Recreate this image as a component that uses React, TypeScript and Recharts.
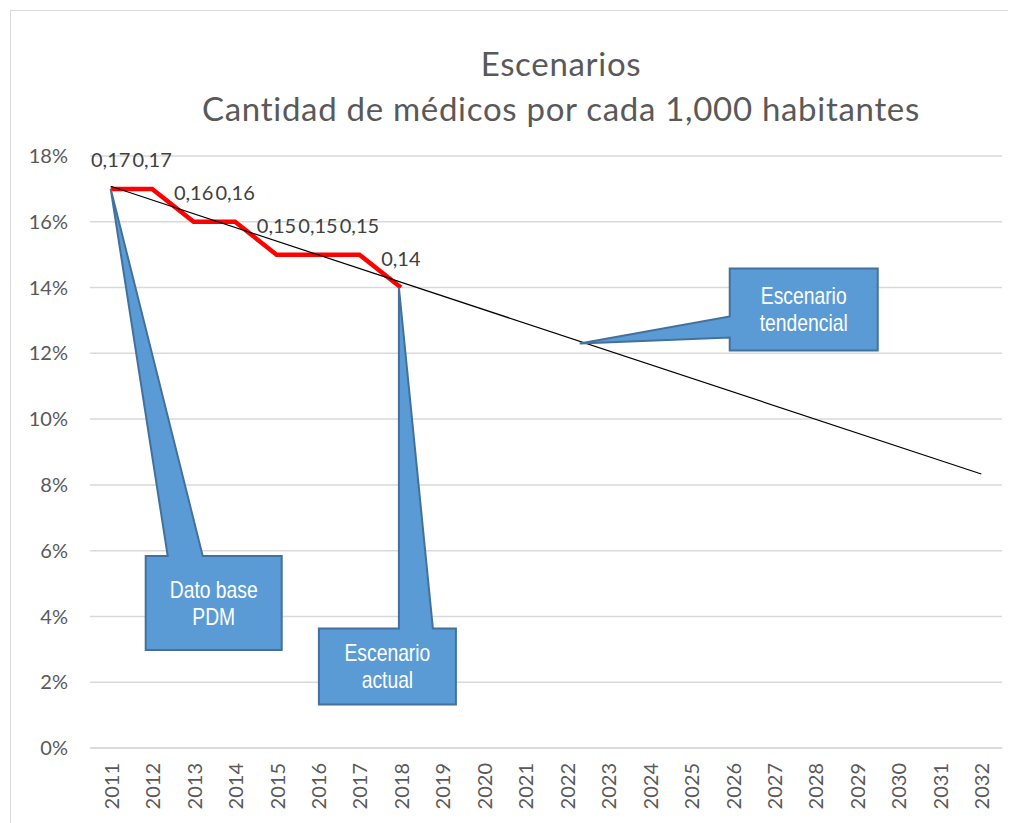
import React from "react";
import {
  LineChart,
  Line,
  XAxis,
  YAxis,
  CartesianGrid,
  LabelList,
  ReferenceDot,
} from "recharts";

const years = [
  "2011", "2012", "2013", "2014", "2015", "2016", "2017", "2018", "2019", "2020", "2021",
  "2022", "2023", "2024", "2025", "2026", "2027", "2028", "2029", "2030", "2031", "2032",
];

// actual scenario (red), only observed years
const actual = [
  0.17, 0.17, 0.16, 0.16, 0.15, 0.15, 0.15, 0.14,
  null, null, null, null, null, null, null, null, null, null, null, null, null, null,
];

// linear trend line: endpoints only, drawn straight between them
const trend = [
  0.1708, null, null, null, null, null, null, null, null, null, null,
  null, null, null, null, null, null, null, null, null, null, 0.0833,
];

const yTicks = [0, 0.02, 0.04, 0.06, 0.08, 0.1, 0.12, 0.14, 0.16, 0.18];

const data = years.map((year, i) => ({ year, actual: actual[i], trend: trend[i] }));

type CalloutCfg = {
  x: string;
  y: number;
  tipDx: number;
  box: [number, number, number, number]; // x0, x1, y0, y1 relative to anchor
  side: "top" | "left";
  base: [number, number];
  lines: string[];
};

const callouts: CalloutCfg[] = [
  { x: "2011", y: 0.17, tipDx: 0, box: [35, 171, 367, 461], side: "top", base: [57, 92], lines: ["Dato base", "PDM"] },
  { x: "2018", y: 0.14, tipDx: -2, box: [-82, 55, 341, 417], side: "top", base: [-2, 32], lines: ["Escenario", "actual"] },
  { x: "2022", y: 0.123, tipDx: 13, box: [163, 311, -75, 7], side: "left", base: [-27, -6], lines: ["Escenario", "tendencial"] },
];

const FONT = "Lato, 'Open Sans', sans-serif";
const GREY = "#595959";

function Callout(props: any) {
  const { cx, cy, cfg } = props as { cx: number; cy: number; cfg: CalloutCfg };
  if (cx == null || cy == null) return null;
  const [x0, x1, y0, y1] = cfg.box;
  const tx = cx + cfg.tipDx;
  const ty = cy;
  let d: string;
  if (cfg.side === "top") {
    d = `M${cx + x0},${cy + y0} L${cx + cfg.base[0]},${cy + y0} L${tx},${ty} L${cx + cfg.base[1]},${cy + y0} L${cx + x1},${cy + y0} L${cx + x1},${cy + y1} L${cx + x0},${cy + y1} Z`;
  } else {
    d = `M${cx + x0},${cy + y0} L${cx + x1},${cy + y0} L${cx + x1},${cy + y1} L${cx + x0},${cy + y1} L${cx + x0},${cy + cfg.base[1]} L${tx},${ty} L${cx + x0},${cy + cfg.base[0]} Z`;
  }
  const mx = cx + (x0 + x1) / 2;
  const my = cy + (y0 + y1) / 2;
  const lh = 27;
  return (
    <g>
      <path d={d} fill="#5B9BD5" stroke="#41719C" strokeWidth={2} strokeLinejoin="miter" />
      {cfg.lines.map((t, i) => (
        <text
          key={t}
          x={0}
          y={0}
          transform={`translate(${mx} ${my + (i - (cfg.lines.length - 1) / 2) * lh}) scale(0.84 1)`}
          textAnchor="middle"
          dominantBaseline="central"
          fill="#ffffff"
          fontSize={23}
          fontFamily="'Liberation Sans', Arial, sans-serif"
        >
          {t}
        </text>
      ))}
    </g>
  );
}

function YearTick(props: any) {
  const { x, y, payload } = props;
  return (
    <text
      x={x}
      y={y}
      transform={`rotate(-90 ${x} ${y})`}
      textAnchor="end"
      dominantBaseline="central"
      fill={GREY}
      fontSize={20}
      fontFamily={FONT}
    >
      {payload.value}
    </text>
  );
}

const fmtLabel = (v: any) => (v == null ? "" : Number(v).toFixed(2).replace(".", ","));

export default function App() {
  return (
    <div style={{ padding: 2 }}>
      <div
        style={{
          position: "relative",
          width: 999,
          height: 830,
          border: "1px solid #d9d9d9",
          background: "#fff",
          overflow: "hidden",
        }}
      >
        <div
          style={{
            position: "absolute",
            left: 0,
            width: 1100,
            top: 30,
            lineHeight: "45px",
            textAlign: "center",
            color: GREY,
            fontFamily: FONT,
            fontSize: 33,
            letterSpacing: 0.7,
          }}
        >
          <div>Escenarios</div>
          <div>Cantidad de médicos por cada 1,000 habitantes</div>
        </div>
        <LineChart
          width={999}
          height={812}
          data={data}
          margin={{ top: 145, right: 8, bottom: 0, left: 0 }}
        >
          <CartesianGrid vertical={false} stroke="#d9d9d9" strokeWidth={1.5} />
          <XAxis
            dataKey="year"
            interval={0}
            height={75}
            padding={{ left: 20.7, right: 20.7 }}
            tick={<YearTick />}
            tickLine={false}
            tickSize={6}
            tickMargin={9}
            axisLine={{ stroke: "#d9d9d9", strokeWidth: 1.5 }}
          />
          <YAxis
            domain={[0, 0.18]}
            ticks={yTicks}
            width={79}
            axisLine={false}
            tickLine={false}
            tickSize={20}
            tickMargin={2}
            tickFormatter={(v: number) => `${Math.round(v * 100)}%`}
            tick={{ fill: GREY, fontSize: 20, fontFamily: FONT }}
          />
          <Line
            dataKey="actual"
            stroke="#FF0000"
            strokeWidth={4.5}
            dot={false}
            isAnimationActive={false}
            strokeLinejoin="miter"
          >
            <LabelList
              dataKey="actual"
              position="top"
              offset={22}
              formatter={fmtLabel}
              fill="#404040"
              fontSize={20}
              fontFamily={FONT}
            />
          </Line>
          <Line
            dataKey="trend"
            stroke="#000000"
            strokeWidth={1.2}
            dot={false}
            connectNulls
            isAnimationActive={false}
          />
          {callouts.map((c) => (
            <ReferenceDot
              key={c.lines.join(" ")}
              x={c.x}
              y={c.y}
              r={0}
              ifOverflow="visible"
              shape={(p: any) => <Callout {...p} cfg={c} />}
            />
          ))}
        </LineChart>
      </div>
    </div>
  );
}
